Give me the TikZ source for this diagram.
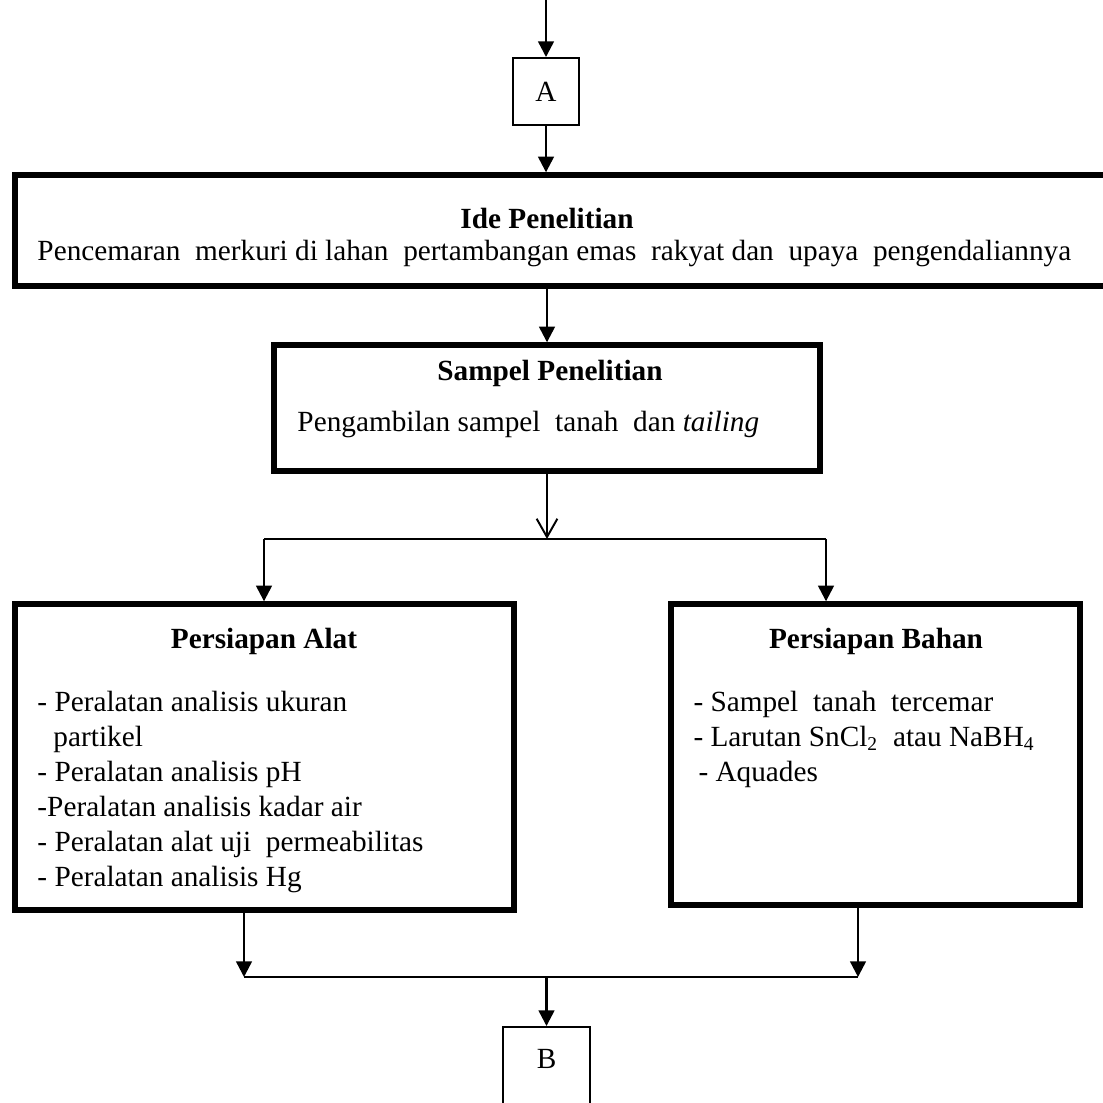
\documentclass[tikz,border=0pt]{standalone}
\usepackage{fontspec}
\setmainfont{Liberation Serif}
\usetikzlibrary{arrows.meta}
\newcommand{\myfs}{\fontsize{12}{13.8}\selectfont}
\newcommand{\pxu}{0.41pt}
\begin{document}
\begin{tikzpicture}[x=0.41pt,y=-0.41pt,
  every node/.style={font=\myfs, inner sep=0pt},
  boxthick/.style={draw, line width=2.2pt, rectangle},
  boxthin/.style={draw, line width=0.8pt, rectangle},
  arr/.style={line width=1pt, -{Triangle[length=6.4pt,width=6.4pt]}},
  openarr/.style={line width=0.7pt, -{Straight Barb[length=7.5pt,width=8.5pt,line width=0.8pt]}},
  hline/.style={line width=0.6pt},
  ttl/.style={anchor=base, font=\myfs\bfseries},
  txt/.style={anchor=base west}]
\useasboundingbox (0,0) rectangle (1103,1103);
% boxes
\node[boxthin, minimum width=66*\pxu, minimum height=67*\pxu] (A) at (546,91.5) {A};
\node[boxthick, minimum width=1100*\pxu, minimum height=111*\pxu] (Ide) at (565,230.5) {};
\node[boxthick, minimum width=546*\pxu, minimum height=126*\pxu] (Sampel) at (547,408) {};
\node[boxthick, minimum width=499*\pxu, minimum height=306*\pxu] (Alat) at (264.5,757) {};
\node[boxthick, minimum width=409*\pxu, minimum height=301*\pxu] (Bahan) at (875.5,754.5) {};
\node[boxthin, minimum width=87*\pxu, minimum height=88*\pxu] (B) at (546.5,1071) {};
% junction points
\coordinate (top) at (546,-10);
\coordinate (jL) at (264,539);
\coordinate (jR) at (826,539);
\coordinate (kL) at (244,977);
\coordinate (kR) at (858,977);
% connectors
\draw[arr] (top) -- (A.north);
\draw[arr] (A.south) -- (A.south |- Ide.north);
\draw[arr] (Sampel.north |- Ide.south) -- (Sampel.north);
\draw[openarr] (Sampel.south) -- (Sampel.south |- jL);
\draw[hline] (jL) -- (jR);
\draw[arr] (jL) -- (jL |- Alat.north);
\draw[arr] (jR) -- (jR |- Bahan.north);
\draw[arr] (kL |- Alat.south) -- (kL);
\draw[arr] (kR |- Bahan.south) -- (kR);
\draw[hline] (kL) -- (kR);
\draw[arr] (B.north |- kL) -- (B.north);
% texts
\node[ttl] (ideT) at (547,229) {Ide Penelitian};
\node[txt] (ideB) at (37,261) {Pencemaran\ \ merkuri di lahan\ \ pertambangan emas\ \ rakyat dan\ \ upaya\ \ pengendaliannya};
\node[ttl] (samT) at (550,381) {Sampel Penelitian};
\node[txt] (samB) at (297,431) {Pengambilan sampel\ \ tanah\ \ dan \textit{tailing}};
\node[ttl] (alatT) at (264,648) {Persiapan Alat};
\node[txt] (a1) at (37,711) {- Peralatan analisis ukuran};
\node[txt] (a2) at (53,746) {partikel};
\node[txt] (a3) at (37,781) {- Peralatan analisis pH};
\node[txt] (a4) at (37,816) {-Peralatan analisis kadar air};
\node[txt] (a5) at (37,851) {- Peralatan alat uji\ \ permeabilitas};
\node[txt] (a6) at (37,886) {- Peralatan analisis Hg};
\node[ttl] (bahT) at (876,648) {Persiapan Bahan};
\node[txt] (b1) at (693,711) {- Sampel\ \ tanah\ \ tercemar};
\node[txt] (b2) at (693,746) {- Larutan SnCl\textsubscript{2}\ \ atau NaBH\textsubscript{4}};
\node[txt] (b3) at (698,781) {- Aquades};
\node[anchor=base] (Bt) at (546.5,1068) {B};
\end{tikzpicture}
\end{document}
